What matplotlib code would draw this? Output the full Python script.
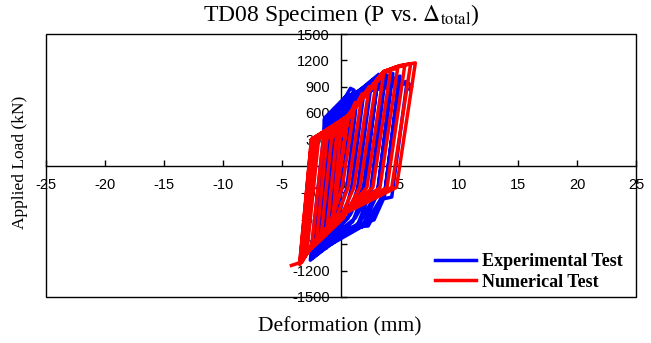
import matplotlib
matplotlib.use("Agg")
import matplotlib.pyplot as plt
from matplotlib.patches import Rectangle
from matplotlib.lines import Line2D

plt.rcParams['mathtext.fontset'] = 'stix'

# ---------------- data ----------------
# Experimental test (blue): deformation (mm), applied load (kN)
exp_d = [0.0, 0.4, -0.1, -0.4, 0.0, 0.9,
         0.1, -0.3, -0.8, -0.2, 0.4, 1.4,
         0.5, -0.1, -1.1, -0.4, 0.3, 2.0,
         0.9, 0.3, -1.4, -0.6, 0.2, 2.6,
         1.4, 0.6, -1.7, -0.8, -0.6, 0.1, 3.2,
         1.9, 0.8, -1.6, -0.7, -0.5, 0.2, 3.1,
         2.0, 1.0, -2.0, -1.0, -0.9, 0.1, 0.8, 1.1, 0.9, 3.8,
         2.6, 1.2, -1.9, -0.9, -0.8, 0.3, 3.7,
         2.5, 1.4, -2.2, -1.2, -1.1, 0.2, 4.4,
         3.1, 1.6, -2.1, -1.1, -1.0, 0.3, 4.3,
         3.1, 1.8, 0.9, 0.6, -2.4, -1.3, -1.4, 0.3, 5.0,
         3.7, 2.0, -2.3, -1.2, -1.3, 0.4, 4.9,
         3.7, 2.3, 1.2, -2.5, -1.4, -1.3, 0.4, 5.6,
         4.3, 3.6, 2.8, 0.8, -2.6, -1.5, -1.4, 0.5, 5.7, 6.0, 5.8]
exp_P = [0, 500, -200, -500, 250, 700,
         -250, -480, -680, 250, 600, 820,
         -250, -520, -780, 250, 640, 900,
         -250, -560, -860, 250, 660, 970,
         -260, -600, -920, 260, 480, 690, 1040,
         -240, -560, -880, 250, 470, 680, 1000,
         -280, -640, -970, 270, 500, 720, 880, 860, 800, 1060,
         -260, -600, -940, 260, 490, 720, 1030,
         -300, -680, -1010, 280, 510, 740, 1050,
         -290, -650, -980, 270, 500, 740, 1020,
         -320, -700, -720, -690, -1040, 290, 520, 760, 1020,
         -310, -680, -1010, 290, 510, 760, 990,
         -340, -690, -700, -1060, 300, 530, 780, 960,
         -360, -380, -620, -710, -1080, 300, 540, 800, 940, 900, 870]

# Numerical test (red)
num_d = [0.0, 0.6, -0.3, -0.7,
         -0.1, 1.2, 0.1, -0.5, -1.2,
         -0.4, 0.3, 1.8, 0.6, -0.3, -1.7,
         -0.8, 0.3, 2.4, 1.1, 0.0, -2.1,
         -1.2, 0.4, 3.0, 1.6, 0.2, -1.8, -2.5,
         -1.5, 0.5, 3.6, 2.2, -0.1, -2.0, -2.9,
         -1.9, 0.5, 3.6, 4.2, 2.7, -0.3, -2.2, -3.2,
         -2.2, 0.6, 3.6, 4.8, 3.3, -0.4, -2.3, -3.4,
         -2.4, 0.6, 3.6, 4.6, 5.4, 3.9, -0.5, -2.4, -3.5,
         -2.5, 0.6, 3.6, 4.8, 5.9, 4.3, -0.5, -2.4, -3.5,
         -2.5, 0.6, 3.6, 5.0, 6.3, 4.7, -0.5, -2.4, -3.3, -4.2]
num_P = [0, 560, -250, -620,
         300, 720, -250, -500, -740,
         300, 450, 820, -250, -560, -820,
         300, 500, 900, -250, -580, -880,
         300, 530, 960, -250, -600, -860, -940,
         300, 550, 1040, -250, -600, -880, -1000,
         300, 560, 1060, 1080, -250, -610, -890, -1060,
         300, 570, 1070, 1110, -250, -610, -890, -1090,
         300, 570, 1070, 1120, 1140, -250, -600, -890, -1110,
         300, 560, 1070, 1130, 1160, -250, -600, -890, -1130,
         300, 560, 1070, 1140, 1170, -250, -600, -890, -1100, -1140]

x_ticks = [-25, -20, -15, -10, -5, 0, 5, 10, 15, 20, 25]
y_ticks = [-1500, -1200, -900, -600, -300, 0, 300, 600, 900, 1200, 1500]

# ---------------- figure ----------------
fig = plt.figure(figsize=(6.51, 3.43), dpi=100)
ax = fig.add_axes([46/651, 1-297/343, 590/651, 263/343])

ax.plot(exp_d, exp_P, color='#0000ff', lw=2.5, solid_joinstyle='round',
        zorder=2)
ax.plot(num_d, num_P, color='#ff0000', lw=2.5, solid_joinstyle='round',
        zorder=3)

ax.set_xlim(-25, 25)
ax.set_ylim(-1500, 1500)

ax.spines['left'].set_position(('data', 0))
ax.spines['bottom'].set_position(('data', 0))
ax.spines['top'].set_visible(False)
ax.spines['right'].set_visible(False)
for s in ('left', 'bottom'):
    ax.spines[s].set_linewidth(1.0)
    ax.spines[s].set_zorder(1)
ax.add_patch(Rectangle((0, 0), 1, 1, transform=ax.transAxes, fill=False,
                       edgecolor='black', lw=1.0, clip_on=False, zorder=5))

ax.set_xticks(x_ticks)
ax.set_yticks(y_ticks)
ax.set_xticklabels([str(v) for v in x_ticks])
ax.set_yticklabels([str(v) for v in y_ticks])
ax.tick_params(axis='x', direction='in', length=4, width=1, pad=9,
               labelsize=10.5)
ax.tick_params(axis='y', direction='in', length=4, width=1, pad=8,
               labelsize=10.5)
for lab in ax.get_xticklabels() + ax.get_yticklabels():
    lab.set_fontfamily('Liberation Sans')

fig.text(341/651, 1-15/343, r"TD08 Specimen (P vs. $\Delta_{\mathrm{total}}$)",
         ha='center', va='center', fontsize=17, family='Liberation Serif')
fig.text(340/651, 1-327/343, "Deformation (mm)", ha='center', va='center',
         fontsize=15.5, family='Liberation Serif')
fig.text(20/651, 1-162/343, "Applied Load (kN)", ha='center', va='center',
         rotation=90, fontsize=12.5, family='Liberation Serif')

handles = [Line2D([], [], color='#0000ff', lw=2.5),
           Line2D([], [], color='#ff0000', lw=2.5)]
leg = fig.legend(handles, ['Experimental Test', 'Numerical Test'],
                 loc='center left', frameon=False,
                 bbox_to_anchor=(435/651, 1-272/343),
                 prop={'family': 'Liberation Serif', 'size': 13, 'weight': 'bold'},
                 handlelength=2.25, handletextpad=0.35, labelspacing=0.2,
                 borderaxespad=0.0, borderpad=0.0)

fig.savefig("out.png", dpi=100)
